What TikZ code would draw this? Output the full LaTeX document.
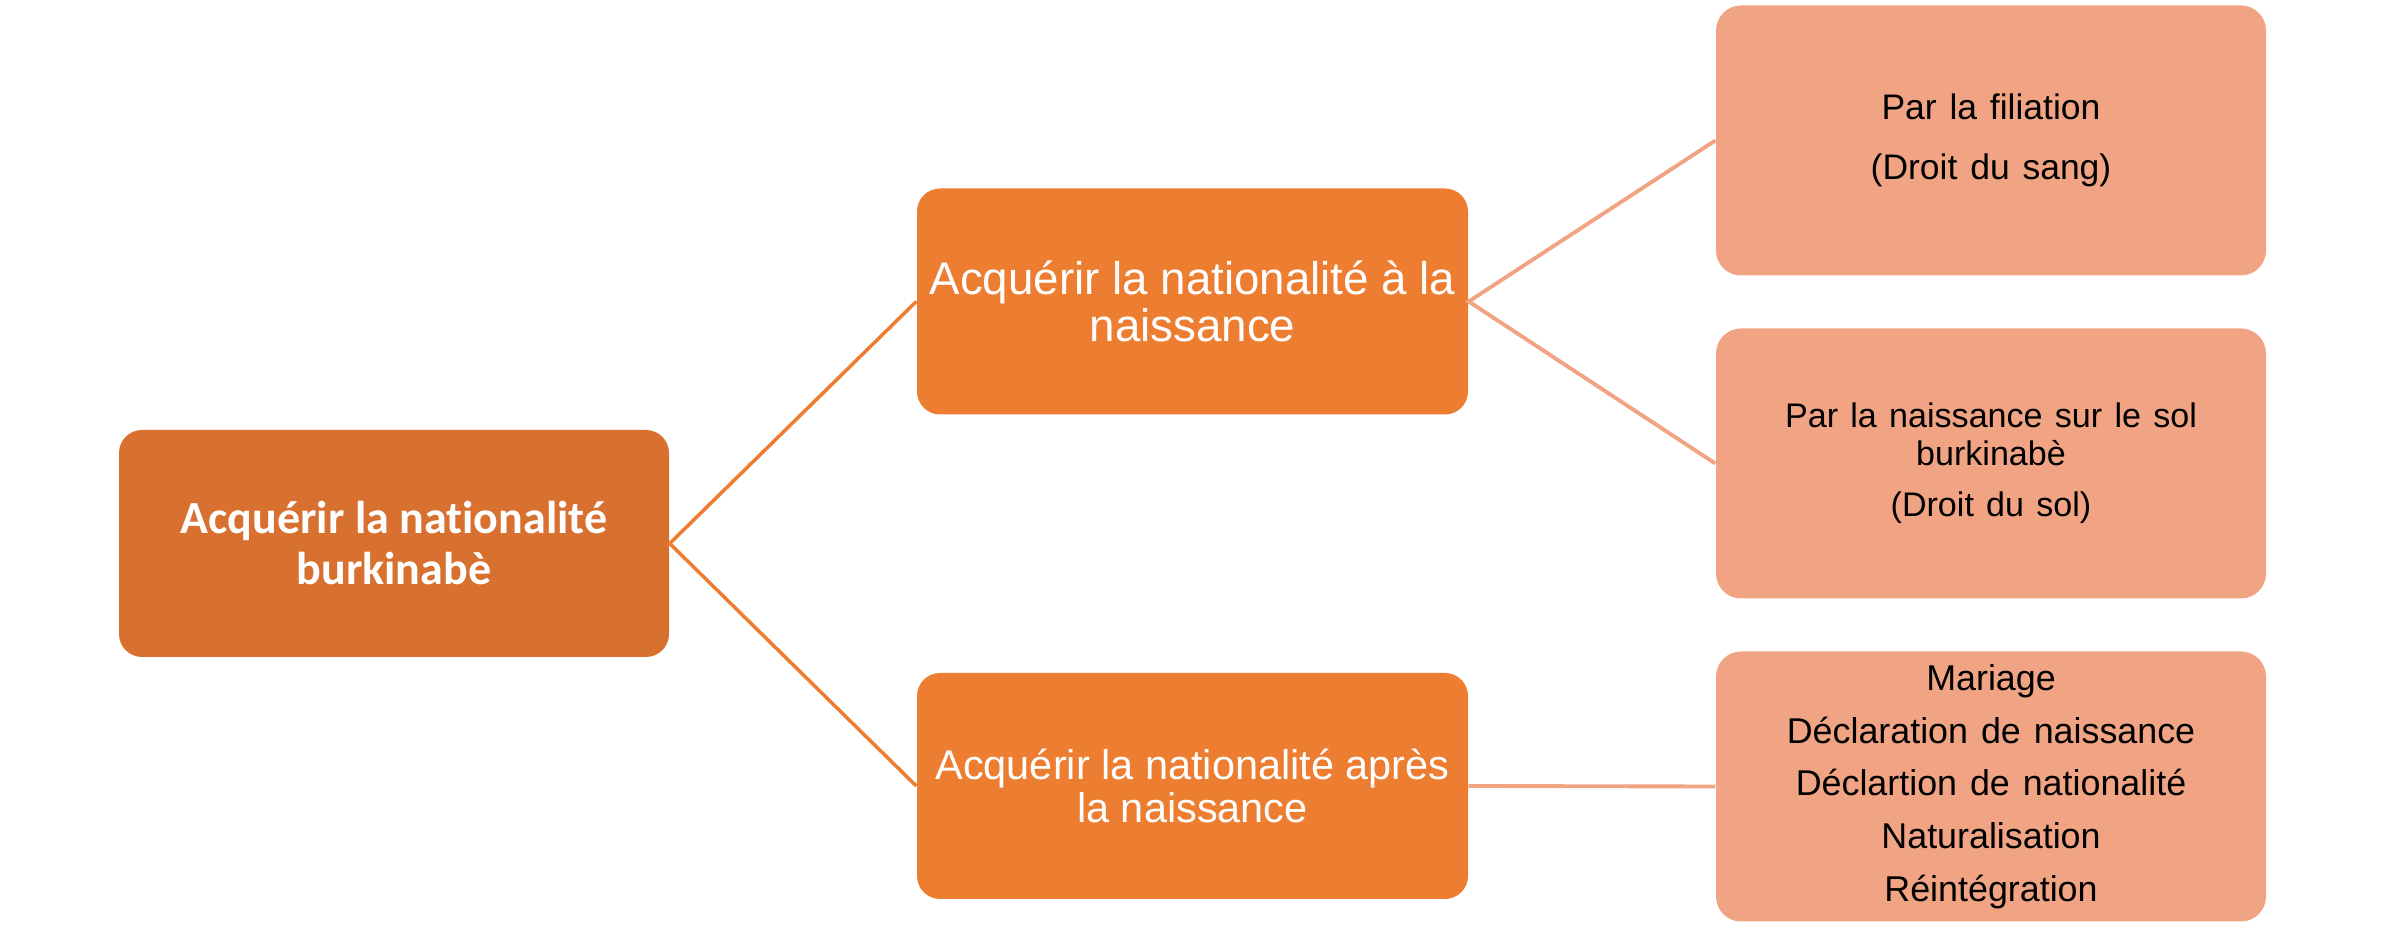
\documentclass[tikz,border=0pt]{standalone}
\usepackage{fontspec}
\setmainfont{Liberation Sans}
\newfontfamily\rootfont[Ligatures=NoCommon]{Carlito}
\usepackage{xcolor}
\usepackage{tikz}
\usetikzlibrary{shapes,positioning,calc}
\definecolor{rootfill}{HTML}{D87130}
\definecolor{midfill}{HTML}{ED7D31}
\definecolor{leaffill}{HTML}{F1A483}
\newcommand{\widespace}{\spaceskip=0.36em plus 0.1em\relax}
\tikzset{
  rootbox/.style={rectangle,rounded corners=0.23cm,fill=rootfill,text=white,
    minimum width=5.5cm,minimum height=2.27cm,align=center,inner sep=2pt,
    font=\rootfont\bfseries\fontsize{13.1}{14.5}\selectfont},
  midbox/.style={rectangle,rounded corners=0.23cm,fill=midfill,text=white,
    minimum width=5.51cm,minimum height=2.26cm,align=center,inner sep=2pt},
  leafbox/.style={rectangle,rounded corners=0.25cm,fill=leaffill,text=black,
    minimum width=5.5cm,minimum height=2.7cm,align=center,inner sep=2pt,
    font=\fontsize{10.1}{10.7}\selectfont\widespace},
  rootline/.style={draw=midfill,line width=1pt},
  leafline/.style={draw=leaffill,line width=1.1pt}
}

\begin{document}
\begin{tikzpicture}
    \useasboundingbox (0,0) rectangle (23.85,9.33);
    % Root
    \node[rootbox] (acq) at (3.94,3.895) {Acquérir la nationalité\\burkinabè};

    % Branch 1: at birth
    \node[midbox,font=\fontsize{13}{13.3}\selectfont] (birth) at (11.925,6.315)
        {Acquérir la nationalité à la\\naissance};
    \node[leafbox] (blood) at (19.91,7.925)
        {Par la filiation\\[6.2pt](Droit du sang)};
    \node[leafbox,font=\fontsize{9.7}{10.7}\selectfont\widespace] (soil) at (19.91,4.695)
        {Par la naissance sur le sol\\burkinabè\\[3.9pt](Droit du sol)};

    % Branch 2: after birth
    \node[midbox,font=\fontsize{11.8}{12.3}\selectfont] (after) at (11.925,1.47)
        {Acquérir la nationalité après\\la naissance};
    \node[leafbox,font=\fontsize{10.2}{15}\selectfont\widespace] (ways) at (19.91,1.465)
        {Mariage\\Déclaration de naissance\\Déclartion de nationalité\\Naturalisation\\Réintégration};

    \draw[rootline] (birth.west) -- (acq.east) -- (after.west);
    \draw[leafline] (blood.west) -- (birth.east) -- (soil.west);
    \draw[leafline] (after.east) -- (ways.west);
\end{tikzpicture}
\end{document}
